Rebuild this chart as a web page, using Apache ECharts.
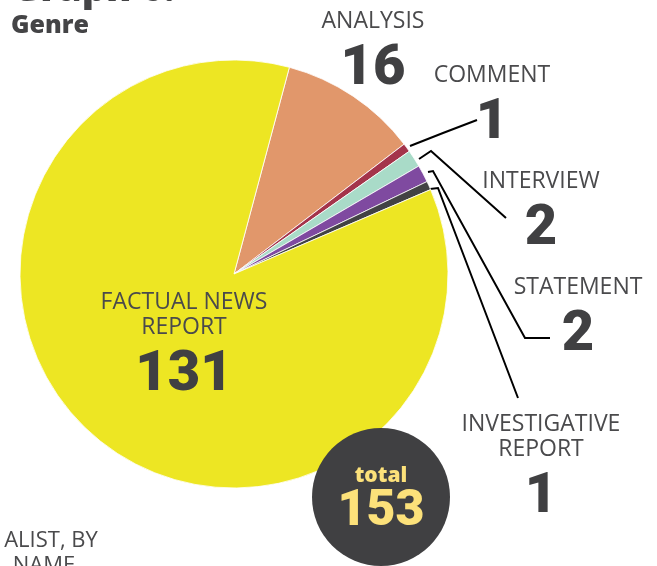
<!DOCTYPE html>
<html>
<head>
<meta charset="utf-8">
<script src="https://cdn.jsdelivr.net/npm/echarts@6/dist/echarts.min.js"></script>
<style>
html, body { margin: 0; padding: 0; background: #fff; }
#main { width: 657px; height: 566px; }
</style>
</head>
<body>
<div id="main"></div>
<script>
// 数据
var genres = ['ANALYSIS', 'COMMENT', 'INTERVIEW', 'STATEMENT', 'INVESTIGATIVE\nREPORT', 'FACTUAL NEWS\nREPORT'];
var counts = [16, 1, 2, 2, 1, 131];
var colors = ['#E1976B', '#A4344B', '#A9DBC8', '#7F4AA0', '#424244', '#EDE623'];

// label 位置 (x 中心, y 顶部) 和引线
var labelPos = [
    [373, 9], [492, 63], [541, 169], [578, 275], [541, 412], [184, 290]
];
var guideLines = [
    [[410, 146], [443, 133], [477, 120]],
    [[419, 159], [431, 151], [506, 218]],
    [[428, 172], [433, 171], [525, 338], [550, 338]],
    [[430, 189], [438, 188], [518, 398]],
    null,
    null
];

var total = counts.reduce(function (a, b) { return a + b; }, 0);

var myChart = echarts.init(document.getElementById('main'), null, { renderer: 'canvas' });

var seriesData = genres.map(function (g, i) {
    return {
        name: g,
        value: counts[i],
        itemStyle: { color: colors[i] },
        labelLine: { show: guideLines[i] !== null }
    };
});

var option = {
    animation: false,
    graphic: [
        {
            type: 'text', left: 12, top: -29,
            style: { text: 'Graph 6:', font: '800 38px "Open Sans"', fill: '#444446' }
        },
        {
            type: 'text', left: 11, top: 13,
            style: { text: 'Genre', font: '800 25px "Open Sans"', fill: '#444446' }
        },
        {
            type: 'circle', shape: { cx: 381, cy: 497, r: 69 },
            style: { fill: '#404042' }, z: 10
        },
        {
            type: 'text', x: 381, y: 476, z: 11,
            style: { text: 'total', font: '800 21px "Open Sans"', fill: '#FCE17A', align: 'center', verticalAlign: 'middle' }
        },
        {
            type: 'text', x: 381, y: 512, z: 11,
            style: { text: String(total), font: '900 50px Roboto', fill: '#FCE17A', align: 'center', verticalAlign: 'middle' }
        },
        {
            type: 'text', x: 51, y: 541,
            style: { text: 'ALIST, BY', font: '400 22px "Open Sans"', fill: '#4a4a4c', align: 'center', verticalAlign: 'middle' }
        },
        {
            type: 'text', x: 44, y: 566,
            style: { text: 'NAME', font: '400 22px "Open Sans"', fill: '#4a4a4c', align: 'center', verticalAlign: 'middle' }
        }
    ],
    series: [
        {
            type: 'pie',
            center: [234, 274],
            radius: [0, 214],
            startAngle: 75,
            clockwise: true,
            avoidLabelOverlap: false,
            itemStyle: { borderColor: '#fff', borderWidth: 0.8 },
            label: {
                show: true,
                position: 'outside',
                formatter: function (p) {
                    var lines = p.name.split('\n').map(function (s) { return '{n|' + s + '}'; });
                    return lines.join('\n') + '\n{v|' + p.value + '}';
                },
                rich: {
                    n: { fontFamily: 'Open Sans', fontSize: 23, color: '#4a4a4c', lineHeight: 25, align: 'center' },
                    v: { fontFamily: 'Roboto', fontWeight: 900, fontSize: 56, color: '#404042', lineHeight: 72, align: 'center' }
                }
            },
            labelLine: {
                show: true,
                lineStyle: { color: '#000', width: 2 }
            },
            labelLayout: function (params) {
                var i = params.dataIndex;
                var out = {
                    x: labelPos[i][0],
                    y: labelPos[i][1],
                    align: 'center',
                    verticalAlign: 'top'
                };
                if (guideLines[i]) {
                    out.labelLinePoints = guideLines[i];
                }
                return out;
            },
            data: seriesData
        }
    ]
};

myChart.setOption(option);
</script>
</body>
</html>
